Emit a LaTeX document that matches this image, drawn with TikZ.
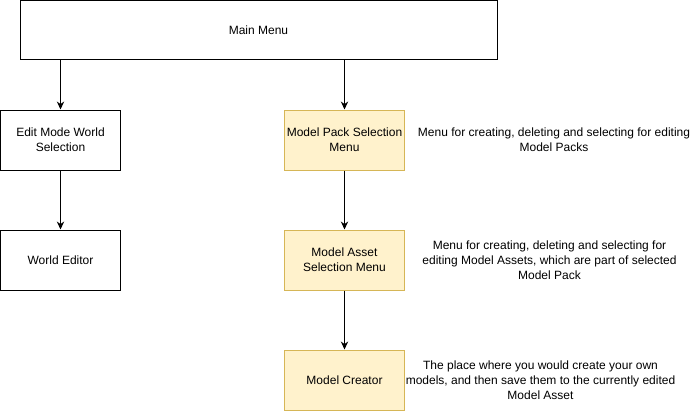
\documentclass[tikz,border=0pt]{standalone}
\usepackage{fontspec}
\setmainfont{Liberation Sans}
\usetikzlibrary{arrows.meta}
\definecolor{paleyellow}{HTML}{FFF2CC}
\definecolor{darkyellow}{HTML}{D6B656}
\begin{document}
\begin{tikzpicture}[x=0.75pt,y=-0.75pt,
	box/.style={draw,line width=0.75pt,minimum width=90pt,minimum height=45pt,align=center,inner sep=0pt,font=\fontsize{9}{11}\selectfont},
	modelbox/.style={box,fill=paleyellow,draw=darkyellow},
	note/.style={align=center,inner sep=0pt,font=\fontsize{9}{11.25}\selectfont},
	arr/.style={-{Stealth[length=6pt,width=5.5pt]},line width=0.75pt}]
		\useasboundingbox (0,0) rectangle (692,411);
		%\draw [help lines] (0,0) grid (692,411);
		\node[box,minimum width=357.75pt,minimum height=44.6pt] (main) at (258.5,30.25){Main Menu};
		\node[box] (edit) at (60.5,140){Edit Mode World\\Selection};
		\node[box] (world) at (60.5,260){World Editor};
		\node[modelbox] (pack) at (344.5,140){Model Pack Selection\\Menu};
		\node[modelbox] (asset) at (344.5,260){Model Asset\\Selection Menu};
		\node[modelbox] (creator) at (344.5,380){Model Creator};
		\node[note] (packnote) at (554,140){Menu for creating, deleting and selecting for editing\\Model Packs};
		\node[note] (assetnote) at (549.5,260){Menu for creating, deleting and selecting for\\editing Model Assets, which are part of selected\\Model Pack};
		\node[note] (creatornote) at (540.5,380){The place where you would create your own\\models, and then save them to the currently edited\\Model Asset};
		\draw[arr] (main.south -| edit) -- (edit);
		\draw[arr] (edit) -- (world);
		\draw[arr] (main.south -| pack) -- (pack);
		\draw[arr] (pack) -- (asset);
		\draw[arr] (asset) -- (creator);
	\end{tikzpicture}
\end{document}
